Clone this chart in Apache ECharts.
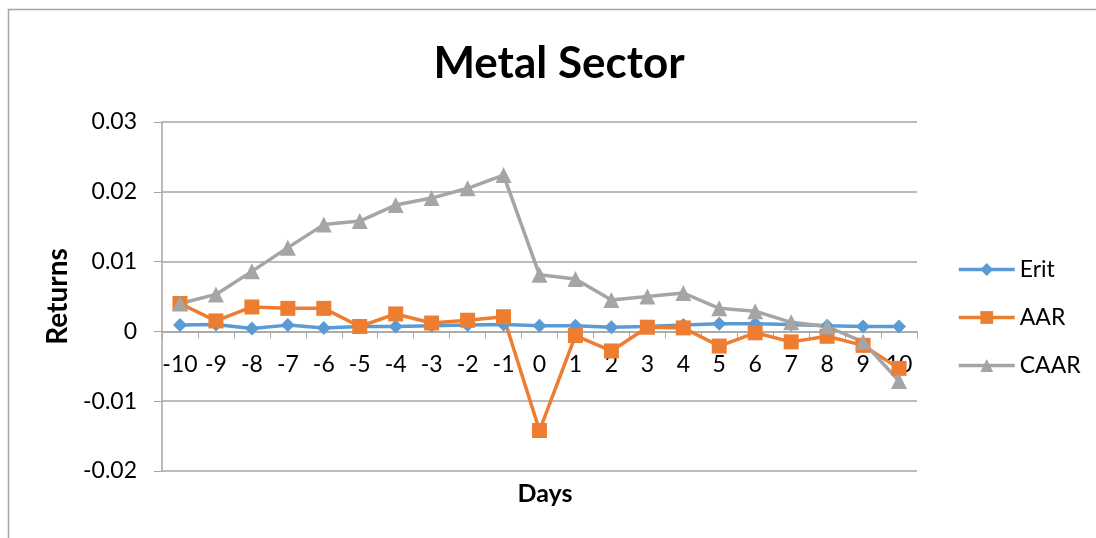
<!DOCTYPE html>
<html>
<head>
<meta charset="utf-8">
<style>
  html, body { margin: 0; padding: 0; background: #fff; }
  #chart { width: 1096px; height: 538px; }
</style>
<script src="https://cdn.jsdelivr.net/npm/echarts@6/dist/echarts.min.js"></script>
</head>
<body>
<div id="chart"></div>
<script>
// Event window (days relative to announcement)
const days = ['-10','-9','-8','-7','-6','-5','-4','-3','-2','-1','0','1','2','3','4','5','6','7','8','9','10'];

// Expected return
const erit = [0.0009, 0.0010, 0.0004, 0.0009, 0.0005, 0.0007, 0.0007, 0.0008, 0.0009, 0.0010, 0.0008,
              0.0008, 0.0006, 0.0007, 0.0009, 0.0011, 0.0011, 0.0010, 0.0008, 0.0007, 0.0007];

// Average abnormal return
const aar = [0.0040, 0.0015, 0.0035, 0.0033, 0.0033, 0.0007, 0.0025, 0.0012, 0.0016, 0.0021, -0.0142,
             -0.0006, -0.0028, 0.0006, 0.0005, -0.0021, -0.0002, -0.0015, -0.0007, -0.0020, -0.0053];

// Cumulative average abnormal return
const caar = [0.0040, 0.0053, 0.0086, 0.0120, 0.0153, 0.0158, 0.0181, 0.0191, 0.0205, 0.0224, 0.0081,
              0.0075, 0.0045, 0.0050, 0.0055, 0.0033, 0.0029, 0.0013, 0.0007, -0.0015, -0.0071];

const yTicks = { min: -0.02, max: 0.03, step: 0.01 };

const FONT = 'Lato, "Open Sans", sans-serif';

// Plot area box
const GRID = { left: 162, right: 179, top: 122, bottom: 67 };
const CHART_H = 538;
// Lift the category axis from the bottom edge up to the zero line
const plotH = CHART_H - GRID.top - GRID.bottom;
const zeroLift = plotH * (0 - yTicks.min) / (yTicks.max - yTicks.min);

const chart = echarts.init(document.getElementById('chart'), null, { renderer: 'canvas' });

function lineSeries(name, data, color, symbol, size) {
  return {
    name: name,
    type: 'line',
    data: data,
    symbol: symbol,
    symbolSize: size,
    showAllSymbol: true,
    lineStyle: { color: color, width: 3.5 },
    itemStyle: { color: color },
    emphasis: { disabled: true },
    animation: false
  };
}

chart.setOption({
  backgroundColor: '#ffffff',
  textStyle: { fontFamily: FONT },
  graphic: [{
    type: 'rect',
    shape: { x: 8.5, y: 9.5, width: 1200, height: 700 },
    style: { fill: 'none', stroke: '#a6a6a6', lineWidth: 1.5 },
    silent: true,
    z: -1
  }],
  title: [{
    text: 'Metal Sector',
    left: 554,
    top: 37,
    textAlign: 'center',
    textStyle: { fontFamily: FONT, fontSize: 44, fontWeight: 'bold', color: '#000' }
  }, {
    // x-axis title, set below the plot area
    text: 'Days',
    left: 540,
    top: 476,
    textAlign: 'center',
    textStyle: { fontFamily: FONT, fontSize: 25, fontWeight: 'bold', color: '#000' }
  }],
  legend: {
    orient: 'vertical',
    left: 952,
    top: 253,
    itemWidth: 56,
    itemHeight: 16,
    itemGap: 25,
    lineStyle: { width: 3.5 },
    textStyle: { fontFamily: FONT, fontSize: 23, color: '#000' },
    data: ['Erit', 'AAR', 'CAAR']
  },
  grid: Object.assign({ containLabel: false }, GRID),
  xAxis: {
    type: 'category',
    data: days,
    boundaryGap: true,
    position: 'bottom',
    offset: -zeroLift,
    axisLine: { show: true, onZero: false, lineStyle: { color: '#a6a6a6', width: 1.5 } },
    axisTick: { show: true, inside: false, length: 7, alignWithLabel: false, lineStyle: { color: '#a6a6a6' } },
    axisLabel: { fontFamily: FONT, fontSize: 23, color: '#000', margin: 22, interval: 0 },
    splitLine: { show: false }
  },
  yAxis: {
    type: 'value',
    min: yTicks.min,
    max: yTicks.max,
    interval: yTicks.step,
    name: 'Returns',
    nameLocation: 'middle',
    nameGap: 86,
    nameRotate: 90,
    nameTextStyle: { fontFamily: FONT, fontSize: 28, fontWeight: 'bold', color: '#000' },
    axisLine: { show: true, onZero: false, lineStyle: { color: '#a6a6a6', width: 1.5 } },
    axisTick: { show: true, inside: false, length: 8, lineStyle: { color: '#a6a6a6' } },
    axisLabel: {
      fontFamily: FONT, fontSize: 23, color: '#000', margin: 25,
      formatter: v => (Math.abs(v) < 1e-9 ? '0' : String(Math.round(v * 100) / 100))
    },
    splitLine: { show: true, lineStyle: { color: '#a6a6a6', width: 1.5 } }
  },
  series: [
    lineSeries('Erit', erit, '#5b9bd5', 'diamond', 14),
    lineSeries('AAR', aar, '#ed7d31', 'rect', 15),
    lineSeries('CAAR', caar, '#a5a5a5', 'triangle', 16)
  ]
});
</script>
</body>
</html>
